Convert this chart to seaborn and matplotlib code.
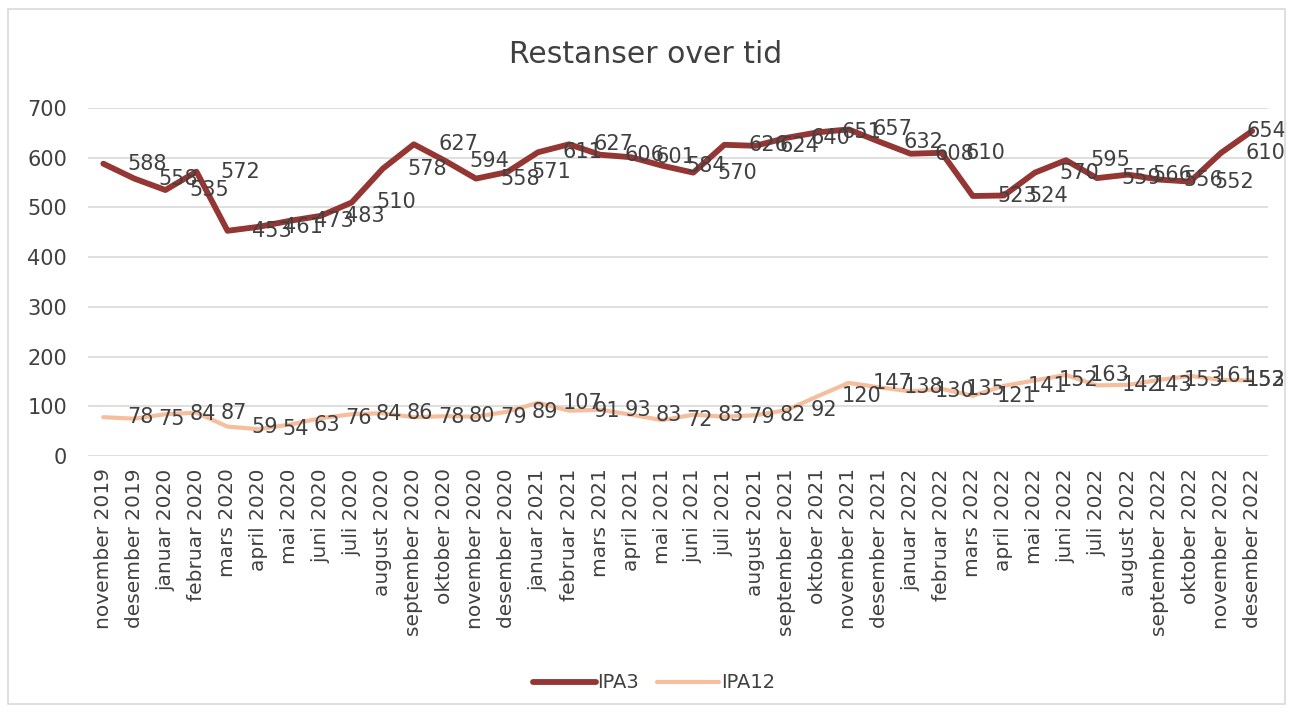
import pandas as pd
import seaborn as sns
import matplotlib.pyplot as plt
from matplotlib.patches import Rectangle

# Months on the x axis
months = [
    "november 2019", "desember 2019", "januar 2020", "februar 2020", "mars 2020",
    "april 2020", "mai 2020", "juni 2020", "juli 2020", "august 2020",
    "september 2020", "oktober 2020", "november 2020", "desember 2020",
    "januar 2021", "februar 2021", "mars 2021", "april 2021", "mai 2021",
    "juni 2021", "juli 2021", "august 2021", "september 2021", "oktober 2021",
    "november 2021", "desember 2021", "januar 2022", "februar 2022", "mars 2022",
    "april 2022", "mai 2022", "juni 2022", "juli 2022", "august 2022",
    "september 2022", "oktober 2022", "november 2022", "desember 2022",
]

ipa3 = [588, 558, 535, 572, 453, 461, 473, 483, 510, 578,
        627, 594, 558, 571, 611, 627, 606, 601, 584, 570,
        626, 624, 640, 651, 657, 632, 608, 610, 523, 524,
        570, 595, 559, 566, 556, 552, 610, 654]

ipa12 = [78, 75, 84, 87, 59, 54, 63, 76, 84, 86,
         78, 80, 79, 89, 107, 91, 93, 83, 72, 83,
         79, 82, 92, 120, 147, 138, 130, 135, 121, 141,
         152, 163, 142, 143, 153, 161, 153, 152]

series = {"IPA3": ipa3, "IPA12": ipa12}
colors = {"IPA3": "#933634", "IPA12": "#F6BE9C"}
widths = {"IPA3": 4.2, "IPA12": 3.0}

df = pd.DataFrame({
    "pos": list(range(len(months))) * 2,
    "value": ipa3 + ipa12,
    "serie": ["IPA3"] * len(months) + ["IPA12"] * len(months),
})

sns.set_style("white")
plt.rcParams["font.family"] = ["DejaVu Sans"]

fig = plt.figure(figsize=(12.91, 7.13), dpi=100)
ax = fig.add_axes([0.068, 0.3605, 0.914, 0.488])

for name in ["IPA12", "IPA3"]:
    sns.lineplot(data=df[df["serie"] == name], x="pos", y="value",
                 color=colors[name], linewidth=widths[name], ax=ax,
                 label=name, zorder=3 if name == "IPA3" else 2)

# data labels, placed to the right of each point like Excel does
n = len(months)
for name, vals in series.items():
    for i, v in enumerate(vals):
        xl = min(i + 0.78, n - 1.2)
        ax.text(xl, v, str(v), ha="left", va="center", fontsize=15,
                color="#404040", zorder=4)

ax.set_xlim(-0.5, n - 0.5)
ax.set_ylim(0, 700)
ax.set_yticks(range(0, 701, 100))
ax.set_xticks(range(n))
ax.set_xticklabels(months, rotation=90, fontsize=14.5, color="#404040")
ax.tick_params(axis="y", labelsize=15, labelcolor="#404040", length=0, pad=15)
ax.tick_params(axis="x", length=0, pad=9)
ax.set_xlabel("")
ax.set_ylabel("")
ax.grid(axis="y", color="#D9D9D9", linewidth=1.2)
for s in ax.spines.values():
    s.set_visible(False)

# legend sorted like the reference
handles, labels = ax.get_legend_handles_labels()
order = [labels.index("IPA3"), labels.index("IPA12")]
leg = ax.legend([handles[k] for k in order], [labels[k] for k in order],
                loc="center", bbox_to_anchor=(0.48, -0.652), ncol=2,
                frameon=False, fontsize=14, handlelength=3.2,
                columnspacing=0.9, handletextpad=0.1)
for t in leg.get_texts():
    t.set_color("#404040")

fig.text(0.5, 0.923, "Restanser over tid", ha="center", va="center",
         fontsize=21.5, color="#404040")

# chart border
fig.patches.append(Rectangle((0.006, 0.012), 0.989, 0.975, transform=fig.transFigure,
                             fill=False, edgecolor="#D9D9D9", linewidth=1.2))

plt.savefig("out.png", dpi=100)
